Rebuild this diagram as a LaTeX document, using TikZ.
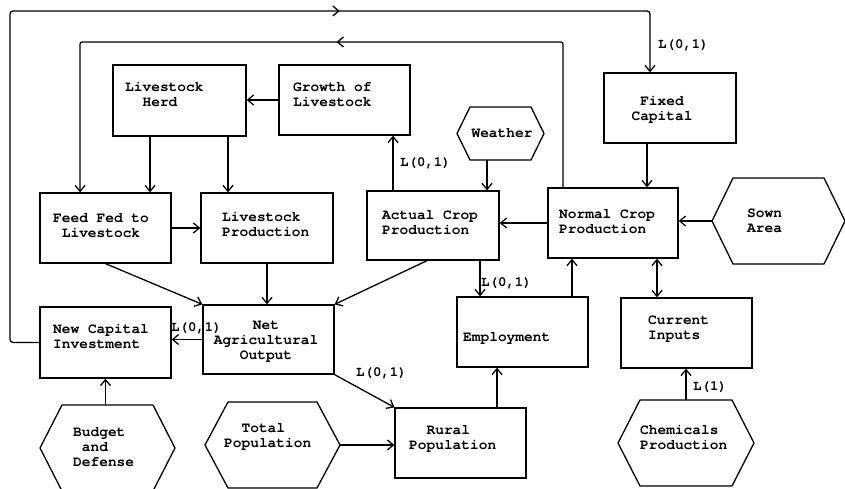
\documentclass[tikz,border=0pt]{standalone}
\usepackage{fontspec}
\setmonofont{TeX Gyre Cursor}
\usetikzlibrary{arrows.meta,decorations.markings}

\tikzset{
  wire/.style={line width=1.3pt},
  tip/.tip={Straight Barb[length=6pt,width=10pt,line width=1.3pt]},
  arr/.style={wire,-tip},
  arrboth/.style={wire,tip-tip},
  box/.style={draw,line width=1.3pt,minimum width=#1,minimum height=70pt,inner sep=0pt},
  hexbox/.style={draw=none,outer sep=0pt,inner sep=0pt},
  txt/.style={font=\ttfamily\bfseries\fontsize{14.5}{15}\selectfont,inner sep=0pt,align=left},
  ctxt/.style={txt,align=center},
  lag/.style={font=\ttfamily\bfseries\fontsize{14}{15}\selectfont,inner sep=0pt,anchor=west},
  midtip/.style={postaction={decorate},decoration={markings,mark=at position #1 with {\arrow{tip}}}}
}

% hexagonal frame around an invisible node: name, inset of the pointed ends
\newcommand\hexframe[2]{%
  \draw[wire] (#1.west) -- ([xshift=#2]#1.north west) -- ([xshift=-#2]#1.north east)
    -- (#1.east) -- ([xshift=-#2]#1.south east) -- ([xshift=#2]#1.south west) -- cycle;}

\begin{document}
\begin{tikzpicture}[x=1pt,y=-1pt]
\useasboundingbox (0,0) rectangle (845,489);

% rectangular blocks
\node[box=133pt,minimum height=71pt] (herd)    at (179.5,100.5) {};
\node[box=131pt] (growth)  at (344.5,100) {};
\node[box=132pt] (fixed)   at (670,108) {};
\node[box=131pt] (feed)    at (105.5,228) {};
\node[box=132pt] (livprod) at (267,228) {};
\node[box=132pt,minimum height=69pt] (actual) at (433,225.5) {};
\node[box=130pt] (normal)  at (613,223) {};
\node[box=131pt] (employ)  at (522.5,332) {};
\node[box=131pt] (current) at (686.5,333) {};
\node[box=131pt,minimum height=71pt] (newcap) at (105.5,342.5) {};
\node[box=131pt,minimum height=69pt] (net) at (268.5,339.5) {};
\node[box=131pt] (rural)   at (460.5,443) {};

% hexagonal (exogenous) blocks
\node[hexbox,minimum width=87pt,minimum height=53pt] (weather) at (500.5,133.5) {};
\node[hexbox,minimum width=133pt,minimum height=86pt] (sown) at (778.5,221) {};
\node[hexbox,minimum width=135pt,minimum height=86pt] (budget) at (107.5,448) {};
\node[hexbox,minimum width=135pt,minimum height=86pt] (total) at (272.5,445) {};
\node[hexbox,minimum width=136pt,minimum height=86pt] (chem) at (686,443) {};
\hexframe{weather}{13pt}
\hexframe{sown}{21pt}
\hexframe{budget}{22pt}
\hexframe{total}{23pt}
\hexframe{chem}{22pt}

% block texts
\node[txt,anchor=west] (t-herd)    at (125,94.5)  {Livestock\\\phantom{xx}Herd};
\node[txt,anchor=west] (t-growth)  at (293,94.5)  {Growth of\\Livestock};
\node[ctxt]            (t-fixed)   at (662,109.5) {Fixed\\Capital};
\node[ctxt]            (t-feed)    at (101,226)   {Feed Fed to\\Livestock};
\node[txt,anchor=west] (t-livprod) at (222,224.5) {Livestock\\Production};
\node[txt,anchor=west] (t-actual)  at (382,222.5) {Actual Crop\\Production};
\node[txt,anchor=west] (t-normal)  at (559,221.5) {Normal Crop\\Production};
\node[txt,anchor=west] (t-sown)    at (747,220.5) {Sown\\Area};
\node[ctxt]            (t-weather) at (502,133)   {Weather};
\node[txt,anchor=west] (t-employ)  at (463,338)   {Employment};
\node[txt,anchor=west] (t-current) at (648,329)   {Current\\Inputs};
\node[txt,anchor=west] (t-newcap)  at (53,336)    {New Capital\\Investment};
\node[ctxt]            (t-net)     at (266,341.5) {Net\\Agricultural\\Output};
\node[txt,anchor=west] (t-budget)  at (73,447)    {Budget\\\phantom{x}and\\Defense};
\node[txt,anchor=west] (t-total)   at (224,437)   {\phantom{xx}Total\\Population};
\node[txt,anchor=west] (t-rural)   at (409,439)   {\phantom{xx}Rural\\Population};
\node[txt,anchor=west] (t-chem)    at (640,437.5) {Chemicals\\Production};

% feedback loops
\coordinate (outL) at (10,11);
\coordinate (outR) at (650,11);
\coordinate (inL) at (80,42);
\coordinate (inR) at (563,42);
\draw[arr,rounded corners=3pt,midtip=688pt]
  (newcap.west) -- (newcap.west -| outL) -- (outL) -- (outR) -- (outR |- fixed.north);
\draw[arr,rounded corners=2pt,midtip=371pt]
  (inR |- normal.north) -- (inR) -- (inL) -- (inL |- feed.north);

% livestock sector
\draw[arr] (growth.west) -- (growth.west -| herd.east);
\draw[arr] ([xshift=-29.5pt]herd.south) -- ([xshift=-29.5pt]herd.south |- feed.north);
\draw[arr] ([xshift=48.5pt]herd.south) -- ([xshift=48.5pt]herd.south |- livprod.north);
\draw[arr] (feed.east) -- (feed.east -| livprod.west);
\draw[arr] (feed.south) -- (net.north west);
\draw[arr] (livprod.south) -- (livprod.south |- net.north);

% crop sector
\draw[arr] ([xshift=-6pt]actual.south) -- (net.north east);
\draw[arr] ([xshift=-40pt]actual.north) -- ([xshift=-40pt]actual.north |- growth.south);
\draw[arr] ([xshift=-13.5pt]weather.south) -- ([xshift=-13.5pt]weather.south |- actual.north);
\draw[arr] (normal.west) -- (normal.west -| actual.east);
\draw[arr] ([xshift=-23pt]fixed.south) -- ([xshift=-23pt]fixed.south |- normal.north);
\draw[arr] (sown.west) -- (sown.west -| normal.east);
\draw[arr] ([xshift=47pt]actual.south) -- ([xshift=47pt]actual.south |- employ.north);
\draw[arr] ([xshift=49.5pt]employ.north) -- ([xshift=49.5pt]employ.north |- normal.south);
\draw[arrboth] ([xshift=44pt]normal.south) -- ([xshift=44pt]normal.south |- current.north);
\draw[arr] (chem.north) -- (chem.north |- current.south);

% output, investment and population
\draw[arr] (net.west) -- (net.west -| newcap.east);
\draw[arr] (newcap.south |- budget.north) -- (newcap.south);
\draw[arr] (net.south east) -- (rural.north west);
\draw[arr] (total.east) -- (total.east -| rural.west);
\draw[arr] ([xshift=36.5pt]rural.north) -- ([xshift=36.5pt]rural.north |- employ.south);

% lag labels
\node[lag] (l-fixed)  at (658,45)  {L(0,1)};
\node[lag] (l-growth) at (400,163) {L(0,1)};
\node[lag] (l-employ) at (481,283) {L(0,1)};
\node[lag] (l-newcap) at (171,328) {L(0,1)};
\node[lag] (l-rural)  at (356,373) {L(0,1)};
\node[lag] (l-chem)   at (693,387) {L(1)};
\end{tikzpicture}
\end{document}
